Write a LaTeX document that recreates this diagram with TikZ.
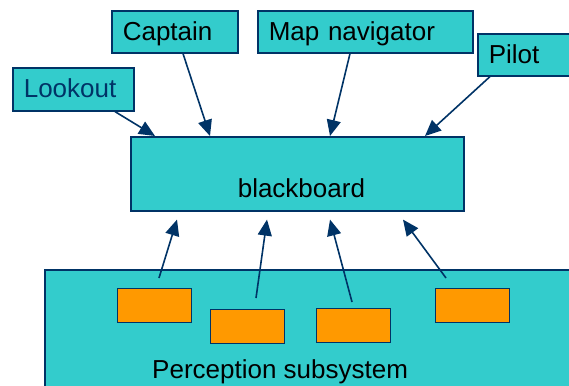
\documentclass[tikz,border=0pt]{standalone}
\usepackage{fontspec}
\setmainfont{Liberation Sans}
\usetikzlibrary{arrows.meta}
\definecolor{tealfill}{HTML}{33CCCC}
\definecolor{navyline}{HTML}{003366}
\definecolor{orangefill}{HTML}{FF9900}
\begin{document}
\begin{tikzpicture}[x=1pt,y=-1pt,
  box/.style={draw=navyline, line width=1.6pt, fill=tealfill, anchor=north west,
    inner ysep=0pt, font=\fontsize{26}{30}\selectfont},
  agent/.style={box, text width=#1, align=left, inner xsep=11pt,
    minimum height=42pt, text height=23.5pt, text depth=5.5pt},
  sensor/.style={draw=navyline, line width=1.3pt, fill=orangefill, anchor=north west,
    minimum width=74pt, minimum height=34pt, inner sep=0pt},
  conn/.style={draw=navyline, line width=1.6pt, -{Triangle[length=16pt,width=14pt]}}]
\useasboundingbox (0,0) rectangle (569,385);
\clip (0,0) rectangle (569,385);
% top agents
\node[agent=104pt] (cap) at (111,10) {Captain};
\node[agent=193pt] (map) at (257,10) {Map navigator};
\node[agent=101pt] (pil) at (477,33) {Pilot};
\node[agent=99pt, text=navyline, minimum height=43pt, text height=22.5pt] (look) at (12,67) {Lookout};
% blackboard
\node[box, minimum width=333pt, minimum height=74pt, text height=53.5pt, text depth=5.5pt,
  text width=313pt, align=left, inner xsep=10pt] (bb) at (130,136) {\hspace*{97pt}blackboard};
% perception subsystem
\node[box, minimum width=560pt, minimum height=150pt] (perc) at (44,269) {};
\node[font=\fontsize{26}{30}\selectfont, anchor=base west, inner sep=0pt] (perctext) at (152,378) {Perception subsystem};
\node[sensor] (o1) at (117,288) {};
\node[sensor] (o2) at (210,309) {};
\node[sensor] (o3) at (316,308) {};
\node[sensor] (o4) at (435,288) {};
% arrows into blackboard from agents
\draw[conn] ([xshift=103pt]look.south west) -- ([xshift=25pt]bb.north west);
\draw[conn] ([xshift=72pt]cap.south west) -- ([xshift=80pt]bb.north west);
\draw[conn] ([xshift=93pt]map.south west) -- ([xshift=200pt]bb.north west);
\draw[conn] ([xshift=13pt]pil.south west) -- ([xshift=295pt]bb.north west);
% arrows from perception
\draw[conn] ([xshift=42pt,yshift=10pt]o1.north west) -- ([xshift=47pt,yshift=-8pt]bb.south west);
\draw[conn] ([xshift=46pt,yshift=11pt]o2.north west) -- ([xshift=137pt,yshift=-8pt]bb.south west);
\draw[conn] ([xshift=36pt,yshift=6pt]o3.north west) -- ([xshift=200pt,yshift=-8pt]bb.south west);
\draw[conn] ([xshift=11pt,yshift=10pt]o4.north west) -- ([xshift=273pt,yshift=-8pt]bb.south west);
\end{tikzpicture}
\end{document}
